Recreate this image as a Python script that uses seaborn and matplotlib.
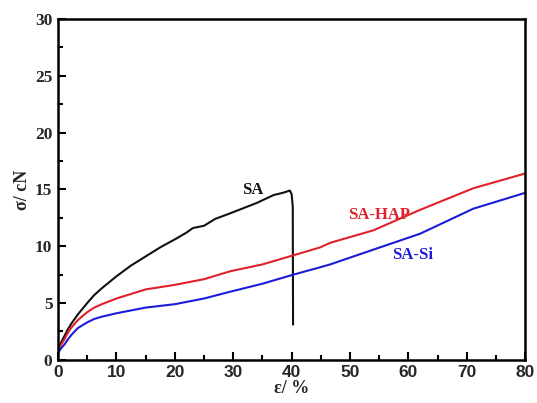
import matplotlib
matplotlib.use("Agg")
import matplotlib.pyplot as plt
import seaborn as sns
import pandas as pd
from matplotlib.ticker import MultipleLocator

sns.set_theme(style="white")
plt.rcParams['font.family'] = ['Liberation Serif', 'DejaVu Serif']

# SA
sa_x = [0, 0.5, 1.1, 1.7, 2.3, 3.4, 5, 6.2, 7.5, 10, 12.5, 15, 17.5, 20, 22, 23.1, 25, 26.9, 29.5, 32, 34, 36.9, 38.5, 39.7, 40.0, 40.2, 40.25]
sa_y = [0.9, 1.5, 2.1, 2.7, 3.2, 4.0, 5.0, 5.7, 6.3, 7.35, 8.3, 9.1, 9.9, 10.6, 11.2, 11.6, 11.8, 12.4, 12.9, 13.4, 13.8, 14.5, 14.7, 14.9, 14.6, 13.5, 3.1]
# SA-HAP
hap_x = [0, 0.5, 1.1, 1.7, 2.3, 3.4, 5, 6.2, 7.5, 10, 15, 20, 25, 29.5, 35, 40.3, 44.9, 46.6, 54, 62, 71.1, 80]
hap_y = [0.7, 1.3, 1.8, 2.4, 2.85, 3.5, 4.2, 4.6, 4.9, 5.4, 6.2, 6.6, 7.1, 7.8, 8.4, 9.2, 9.9, 10.3, 11.4, 13.2, 15.1, 16.4]
# SA-Si
si_x = [0, 0.5, 1.1, 1.7, 2.3, 3.4, 5, 6.2, 7.5, 10, 15, 20, 25, 29.5, 35, 40.3, 44.9, 46.6, 54, 62, 71.1, 80]
si_y = [0.6, 1.0, 1.35, 1.8, 2.2, 2.8, 3.3, 3.6, 3.8, 4.1, 4.6, 4.9, 5.4, 6.0, 6.7, 7.5, 8.15, 8.4, 9.7, 11.1, 13.3, 14.7]

series_names = ["SA", "SA-HAP", "SA-Si"]
colors = ["#111111", "#e0202a", "#1c1cd8"]

fig = plt.figure(figsize=(5.37, 4.03), dpi=100)
ax = fig.add_axes([0.108, 0.107, 0.870, 0.846])

for name, xs, ys, c in zip(series_names, [sa_x, hap_x, si_x], [sa_y, hap_y, si_y], colors):
    df = pd.DataFrame({"x": xs, "y": ys})
    sns.lineplot(data=df, x="x", y="y", ax=ax, color=c, lw=1.5, sort=False, estimator=None)

ax.set_xlim(0, 80)
ax.set_ylim(0, 30)
ax.xaxis.set_major_locator(MultipleLocator(10))
ax.xaxis.set_minor_locator(MultipleLocator(5))
ax.yaxis.set_major_locator(MultipleLocator(5))
ax.yaxis.set_minor_locator(MultipleLocator(2.5))
ax.tick_params(which='both', direction='in', top=False, right=False, bottom=True, left=True, width=1.5, color='black')
ax.tick_params(which='major', length=6, pad=4)
ax.tick_params(which='minor', length=3.5)
for sp in ax.spines.values():
    sp.set_linewidth(1.8)
    sp.set_color('black')

for lab in ax.get_xticklabels():
    lab.set_fontfamily('Liberation Sans')
    lab.set_fontweight('bold')
    lab.set_fontsize(12.5)
for lab in ax.get_yticklabels():
    lab.set_fontfamily('Liberation Serif')
    lab.set_fontweight('bold')
    lab.set_fontsize(12.5)

ax.set_xlabel("ε/ %", fontsize=13, fontweight='bold', labelpad=0)
ax.set_ylabel("σ/ cN", fontsize=13, fontweight='bold', labelpad=3)

ax.text(33.3, 14.95, "SA", color=colors[0], fontsize=12, fontweight='bold', ha='center', va='center')
ax.text(55.0, 12.75, "SA-HAP", color=colors[1], fontsize=12, fontweight='bold', ha='center', va='center')
ax.text(60.8, 9.2, "SA-Si", color=colors[2], fontsize=12, fontweight='bold', ha='center', va='center')

fig.savefig("out.png", dpi=100, facecolor='white')
